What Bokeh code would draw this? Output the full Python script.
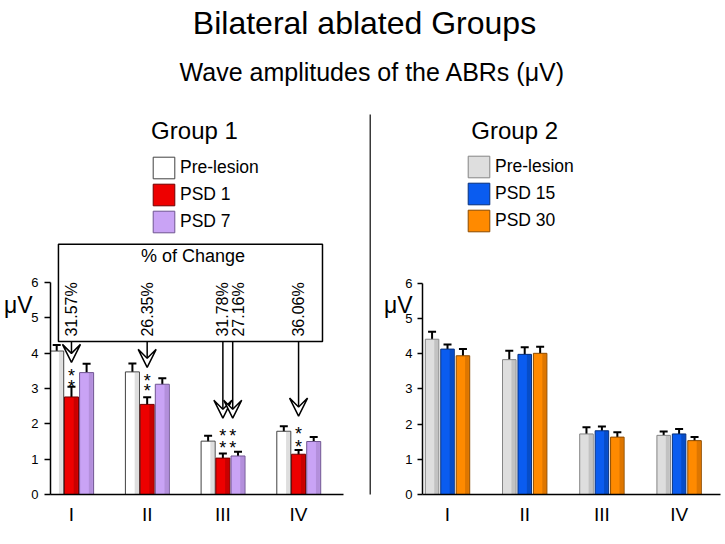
import numpy as np
from bokeh.plotting import figure
from bokeh.models import (ColumnDataSource, Range1d, FixedTicker, Whisker, TeeHead, Arrow,
                          VeeHead, BoxAnnotation, Legend, LegendItem, LinearAxis)
from bokeh.layouts import column, row
from bokeh.embed import file_html
from bokeh.resources import INLINE
from bokeh.core.properties import value

FONT = "Liberation Sans"

# ---------------- data ----------------
waves = ["I", "II", "III", "IV"]
y_ticks = [0, 1, 2, 3, 4, 5, 6]

g1_series = ["Pre-lesion", "PSD 1", "PSD 7"]
g1_pre = [4.06, 3.47, 1.51, 1.79]
g1_pre_err = [0.17, 0.24, 0.15, 0.14]
g1_psd1 = [2.76, 2.55, 1.03, 1.14]
g1_psd1_err = [0.29, 0.20, 0.13, 0.12]
g1_psd7 = [3.45, 3.12, 1.09, 1.50]
g1_psd7_err = [0.25, 0.17, 0.12, 0.13]

g2_series = ["Pre-lesion", "PSD 15", "PSD 30"]
g2_pre = [4.41, 3.83, 1.72, 1.68]
g2_pre_err = [0.21, 0.25, 0.19, 0.11]
g2_psd15 = [4.13, 3.98, 1.81, 1.72]
g2_psd15_err = [0.13, 0.20, 0.12, 0.14]
g2_psd30 = [3.94, 4.01, 1.63, 1.53]
g2_psd30_err = [0.19, 0.19, 0.14, 0.10]

pct_labels = ["31.57%", "26.35%", "31.78%", "27.16%", "36.06%"]
pct_wave = [0, 1, 2, 2, 3]      # which wave
pct_series = [1, 1, 1, 2, 1]    # which post-lesion series (1 = PSD 1, 2 = PSD 7)

# ---------------- styles / layout ----------------
g1_fill = ["#ffffff", "#ee0000", "#c9a3f5"]
g1_line = ["#404040", "#700000", "#6f5590"]
g1_shade = ["#a0a0a0", "#800000", "#8a6aad"]
g2_fill = ["#dedede", "#0a5cf0", "#ff8a00"]
g2_line = ["#858585", "#08307a", "#8a4a00"]
g2_shade = ["#909090", "#00307f", "#a05000"]

OFF1, BW1 = [-0.195, 0.0, 0.2], 0.185
OFF2, BW2 = [-0.2, 0.0, 0.2], 0.175

PCT_Y = 4.47
BOX = dict(left=-0.172, right=3.316, bottom=4.33, top=7.08)
ARROW_TIP = [3.74, 3.60, 2.16, 2.16, 2.22]
ARROW_DX = [0.0, 0.0, 0.0, -0.07, 0.0]
STAR_Y1 = [3.36, 3.22, 1.66, 1.66, 1.71]
STAR_Y2 = [3.03, 2.94, 1.33, 1.33, 1.35]


def make_panel(width, height, xr, yr, b_left, b_bottom, x_axis_end,
               tick_out, tick_standoff, unit_standoff):
    p = figure(width=width, height=height, x_range=Range1d(*xr), y_range=Range1d(*yr),
               output_backend="svg", toolbar_location=None, min_border=0,
               min_border_left=b_left, min_border_bottom=b_bottom,
               outline_line_color=None, background_fill_color="white",
               border_fill_color="white")
    p.grid.visible = False
    ya = p.yaxis[0]
    ya.ticker = FixedTicker(ticks=y_ticks)
    ya.bounds = (0, 6)
    ya.major_tick_out = tick_out
    ya.major_tick_in = 0
    ya.minor_tick_out = 0
    ya.minor_tick_in = 0
    ya.axis_line_width = 1.5
    ya.axis_line_color = "black"
    ya.major_tick_line_width = 1.5
    ya.major_tick_line_color = "black"
    ya.major_label_standoff = tick_standoff
    ya.major_label_text_font = FONT
    ya.major_label_text_font_size = "13px"
    ya.major_label_text_color = "black"
    xa = p.xaxis[0]
    xa.ticker = FixedTicker(ticks=list(range(len(waves))))
    xa.major_label_overrides = {i: w for i, w in enumerate(waves)}
    xa.bounds = (xr[0], x_axis_end)
    xa.major_tick_out = 0
    xa.major_tick_in = 0
    xa.minor_tick_out = 0
    xa.minor_tick_in = 0
    xa.axis_line_width = 1.5
    xa.axis_line_color = "black"
    xa.major_label_standoff = 9
    xa.major_label_text_font = FONT
    xa.major_label_text_font_size = "19px"
    xa.major_label_text_color = "black"
    # unit label "μV" next to the top of the y axis
    unit = LinearAxis(ticker=FixedTicker(ticks=[]), bounds=(5.3, 5.7),
                      axis_line_color=None, major_tick_line_color=None,
                      minor_tick_line_color=None, axis_label="μV",
                      axis_label_orientation="horizontal",
                      axis_label_standoff=unit_standoff,
                      axis_label_text_font=FONT, axis_label_text_font_size="23px",
                      axis_label_text_font_style="normal",
                      axis_label_text_color="black")
    p.add_layout(unit, "left")
    return p


def draw_bars(p, names, vals, errs, fills, lines, shades, offs, bw):
    idx = np.arange(len(waves))
    items = []
    for k in range(len(names)):
        v = np.array(vals[k])
        e = np.array(errs[k])
        x = idx + offs[k]
        src = ColumnDataSource(dict(x=x, top=v, lo=v - e, hi=v + e))
        r = p.vbar(x="x", top="top", bottom=0, width=bw, source=src,
                   fill_color=fills[k], line_color=lines[k], line_width=1)
        p.vbar(x=x + bw * 0.3, top=v, bottom=0, width=bw * 0.28,
               fill_color=shades[k], fill_alpha=0.35, line_color=None)
        items.append(LegendItem(label=names[k], renderers=[r]))
        p.add_layout(Whisker(source=src, base="x", lower="lo", upper="hi",
                             line_width=2, line_color="black",
                             upper_head=TeeHead(size=8, line_width=2, line_color="black"),
                             lower_head=TeeHead(size=8, line_width=2, line_color="black")))
    return items


def make_legend(items, loc):
    return Legend(items=items, location=loc, glyph_width=27, glyph_height=27,
                  label_height=27, spacing=0, padding=0, margin=0, label_standoff=3,
                  border_line_color=None, background_fill_alpha=0,
                  label_text_font=FONT, label_text_font_size="17.5px",
                  label_text_color="black")


# ---------------- title strip ----------------
t = figure(width=725, height=114, x_range=Range1d(0, 725), y_range=Range1d(0, 114),
           output_backend="svg", toolbar_location=None, min_border=0,
           x_axis_type=None, y_axis_type=None, outline_line_color=None)
t.grid.visible = False
t.text(x=[364], y=[92], text=["Bilateral ablated Groups"], text_align="center",
       text_baseline="middle", text_font=value(FONT), text_font_size="32px",
       text_color="black")
t.text(x=[372], y=[43], text=["Wave amplitudes of the ABRs (μV)"], text_align="center",
       text_baseline="middle", text_font=value(FONT), text_font_size="25px",
       text_color="black")

# ---------------- left panel (Group 1) ----------------
L_XR = (-0.277, 3.937)
L_YR = (0, 10.755)
p1 = make_panel(369, 430, L_XR, L_YR, 50, 50, 3.59, 6, 6, -4)
items1 = draw_bars(p1, g1_series, [g1_pre, g1_psd1, g1_psd7],
                   [g1_pre_err, g1_psd1_err, g1_psd7_err],
                   g1_fill, g1_line, g1_shade, OFF1, BW1)
p1.add_layout(make_legend(items1, (100, 259)))

p1.text(x=[1.625], y=[10.30], text=["Group 1"], text_align="center",
        text_baseline="middle", text_font=value(FONT), text_font_size="24px",
        text_color="black")

p1.add_layout(BoxAnnotation(fill_color=None, line_color="black", line_alpha=1,
                            line_width=1.5, **BOX))
p1.text(x=[1.605], y=[6.75], text=["% of Change"], text_align="center",
        text_baseline="middle", text_font=value(FONT), text_font_size="18px",
        text_color="black")

pct_x = np.array([pct_wave[i] + OFF1[pct_series[i]] for i in range(len(pct_labels))])
p1.text(x=pct_x, y=[PCT_Y] * len(pct_labels), text=pct_labels, angle=np.pi / 2,
        text_align="left", text_baseline="middle", text_font=value(FONT),
        text_font_size="16px", text_color="black")

arr_x = pct_x + np.array(ARROW_DX)
arrow_src = ColumnDataSource(dict(x0=arr_x, y0=[BOX["bottom"]] * len(arr_x),
                                  x1=arr_x, y1=ARROW_TIP))
p1.add_layout(Arrow(source=arrow_src, x_start="x0", y_start="y0", x_end="x1", y_end="y1",
                    line_width=1.5, line_color="black",
                    end=VeeHead(size=18, fill_color="white", line_color="black",
                                line_width=1.5)))
star_x = np.concatenate([arr_x, arr_x])
star_y = np.concatenate([STAR_Y1, STAR_Y2])
p1.text(x=star_x, y=star_y, text=["*"] * len(star_x), text_align="center",
        text_baseline="middle", text_font=value(FONT), text_font_size="18px",
        text_color="black")

# ---------------- divider ----------------
dv = figure(width=2, height=430, x_range=Range1d(0, 1), y_range=Range1d(0, 1),
            output_backend="svg", toolbar_location=None, min_border=0,
            min_border_bottom=6, x_axis_type=None, y_axis_type=None,
            outline_line_color=None, background_fill_color="#3a3a3a",
            border_fill_color="white")
dv.grid.visible = False

# ---------------- right panel (Group 2) ----------------
R_XR = (-0.324, 3.601)
R_YR = (0, 10.793)
p2 = make_panel(354, 430, R_XR, R_YR, 51, 49, 3.536, 5, 5, -10)
items2 = draw_bars(p2, g2_series, [g2_pre, g2_psd15, g2_psd30],
                   [g2_pre_err, g2_psd15_err, g2_psd30_err],
                   g2_fill, g2_line, g2_shade, OFF2, BW2)
p2.add_layout(make_legend(items2, (43, 260)))
p2.text(x=[0.913], y=[10.34], text=["Group  2"], text_align="center",
        text_baseline="middle", text_font=value(FONT), text_font_size="24px",
        text_color="black")

layout = column(t, row(p1, dv, p2))
open("out.html", "w").write(file_html(layout, INLINE))
